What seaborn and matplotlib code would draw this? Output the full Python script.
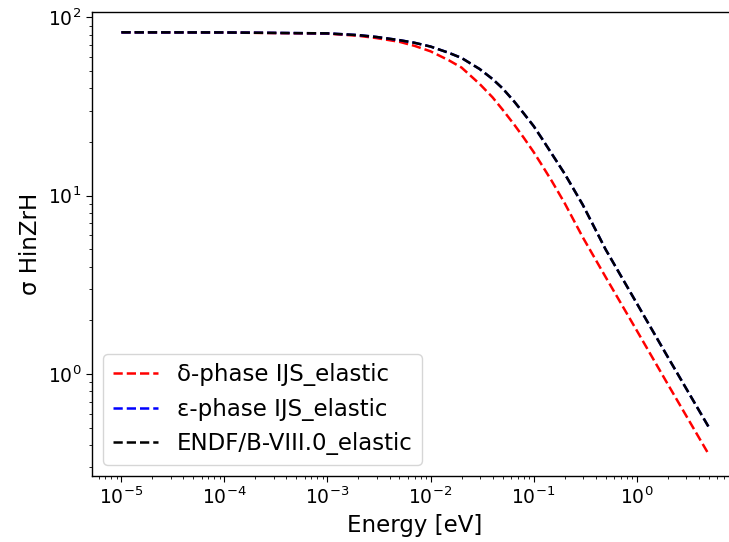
import numpy as np
import pandas as pd
import matplotlib
matplotlib.use("Agg")
import matplotlib.pyplot as plt
import seaborn as sns

# energies [eV] and cross sections
energy = [1e-5, 1e-4, 1e-3, 2e-3, 3e-3, 5e-3, 7e-3, 0.01, 0.015, 0.02,
          0.03, 0.04, 0.05, 0.065, 0.08, 0.1, 0.12, 0.15, 0.2, 0.3,
          0.5, 1.0, 2.0, 5.0]
delta_ijs = [82.4, 82.2, 81.0, 78.8, 76.5, 72.9, 69.2, 64.5, 57.5, 52.3,
             42.3, 35.6, 30.4, 25.0, 21.2, 17.6, 14.9, 12.1, 9.1, 5.85,
             3.5, 1.76, 0.88, 0.355]
eps_ijs = [82.4, 82.3, 81.3, 79.5, 77.6, 74.5, 72.0, 68.6, 63.3, 59.2,
           51.3, 45.1, 40.0, 33.7, 29.0, 24.6, 21.0, 17.2, 13.3, 8.9,
           5.0, 2.5, 1.25, 0.505]
endf = [82.4, 82.3, 81.3, 79.5, 77.6, 74.5, 72.0, 68.6, 63.3, 59.2,
        51.3, 45.1, 40.0, 33.7, 29.0, 24.6, 21.0, 17.2, 13.3, 8.9,
        5.0, 2.5, 1.25, 0.505]

series = ["δ-phase IJS_elastic", "ε-phase IJS_elastic", "ENDF/B-VIII.0_elastic"]
colors = ["red", "blue", "black"]
xticks = [1e-5, 1e-4, 1e-3, 1e-2, 1e-1, 1e0]
yticks = [1e0, 1e1, 1e2]

df = pd.DataFrame({"E": energy, series[0]: delta_ijs,
                   series[1]: eps_ijs, series[2]: endf})

plt.rcParams["axes.linewidth"] = 1.0
plt.rcParams["xtick.major.size"] = 4.2
plt.rcParams["ytick.major.size"] = 4.2
plt.rcParams["xtick.minor.size"] = 2.4
plt.rcParams["ytick.minor.size"] = 2.4

fig = plt.figure(figsize=(7.29, 5.42), dpi=100)
# right edge of the axes runs past the figure, as in the cropped original
ax = fig.add_axes([92/729, 66/542, 646/729, 464/542])

for name, c in zip(series, colors):
    sns.lineplot(data=df, x="E", y=name, color=c, linestyle="--",
                 linewidth=1.8, label=name, ax=ax)

ax.set_xscale("log")
ax.set_yscale("log")
ax.set_xticks(xticks)
ax.set_yticks(yticks)
ax.set_xlim(10**-5.285, 10**0.984)
ax.set_ylim(10**-0.572, 10**2.030)
ax.set_xlabel("Energy [eV]", fontsize=16.5)
ax.set_ylabel("σ HinZrH", fontsize=16.5)
ax.tick_params(labelsize=13.5)
ax.legend(loc="lower left", fontsize=16.5)

fig.savefig("out.png", dpi=100)
